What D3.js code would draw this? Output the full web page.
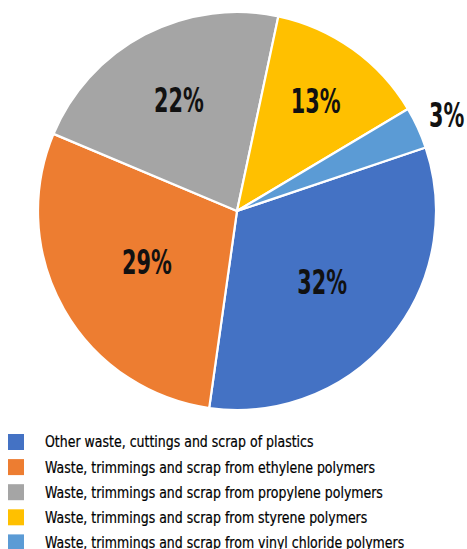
<!DOCTYPE html>
<html>
<head>
<meta charset="utf-8">
<script src="https://cdn.jsdelivr.net/npm/d3@7/dist/d3.min.js"></script>
<style>
  html, body { margin: 0; padding: 0; background: #fff; }
  svg { display: block; }
</style>
</head>
<body>
<svg id="chart" width="467" height="549"></svg>
<script>
// Plastic waste composition (share of total, %)
const categories = [
  "Other waste, cuttings and scrap of plastics",
  "Waste, trimmings and scrap from ethylene polymers",
  "Waste, trimmings and scrap from propylene polymers",
  "Waste, trimmings and scrap from styrene polymers",
  "Waste, trimmings and scrap from vinyl chloride polymers"
];
const shares = [32.4, 29.1, 22.0, 13.1, 3.4];
const colors = ["#4472C4", "#ED7D31", "#A5A5A5", "#FFC000", "#5B9BD5"];

// Label distance from the centre, as a fraction of the radius, per slice
const labelRadius = [0.556, 0.52, 0.63, 0.68, 1.16];

const svg = d3.select("#chart");
const cx = 237, cy = 211, radius = 199;
const start = 71.4 * Math.PI / 180;

const pie = d3.pie()
  .sort(null)
  .value(d => d)
  .startAngle(start)
  .endAngle(start + 2 * Math.PI);

const arcs = pie(shares);
const total = d3.sum(shares);

const arc = d3.arc().innerRadius(0).outerRadius(radius);

const g = svg.append("g").attr("transform", `translate(${cx},${cy})`);

g.selectAll("path.slice")
  .data(arcs)
  .join("path")
  .attr("class", "slice")
  .attr("d", arc)
  .attr("fill", (d, i) => colors[i])
  .attr("stroke", "#fff")
  .attr("stroke-width", 2.2)
  .attr("stroke-linejoin", "round");

g.selectAll("text.pct")
  .data(arcs)
  .join("text")
  .attr("class", "pct")
  .attr("transform", (d, i) => {
    const r = radius * labelRadius[i];
    const [x, y] = d3.arc().innerRadius(r).outerRadius(r).centroid(d);
    return `translate(${x},${y}) scale(0.68,1)`;
  })
  .attr("text-anchor", "middle")
  .attr("dy", "0.36em")
  .style("font-family", "'Liberation Sans Narrow', 'DejaVu Sans Condensed', sans-serif")
  .style("font-weight", "bold")
  .style("font-size", "34px")
  .attr("fill", "#111")
  .text(d => Math.round(d.data / total * 100) + "%");

// Legend
const legend = svg.append("g").attr("transform", "translate(0,442)");
const rowH = 25.1;
const rows = legend.selectAll("g.row")
  .data(categories)
  .join("g")
  .attr("class", "row")
  .attr("transform", (d, i) => `translate(0,${i * rowH})`);

rows.append("rect")
  .attr("x", 8).attr("y", -8)
  .attr("width", 16).attr("height", 16)
  .attr("fill", (d, i) => colors[i]);

rows.append("text")
  .attr("transform", "translate(45,0) scale(0.93,1)")
  .attr("dy", "0.36em")
  .style("font-family", "'Liberation Sans Narrow', 'DejaVu Sans Condensed', sans-serif")
  .style("font-size", "15px")
  .attr("fill", "#000")
  .attr("stroke", "#000")
  .attr("stroke-width", 0.2)
  .text(d => d);
</script>
</body>
</html>
